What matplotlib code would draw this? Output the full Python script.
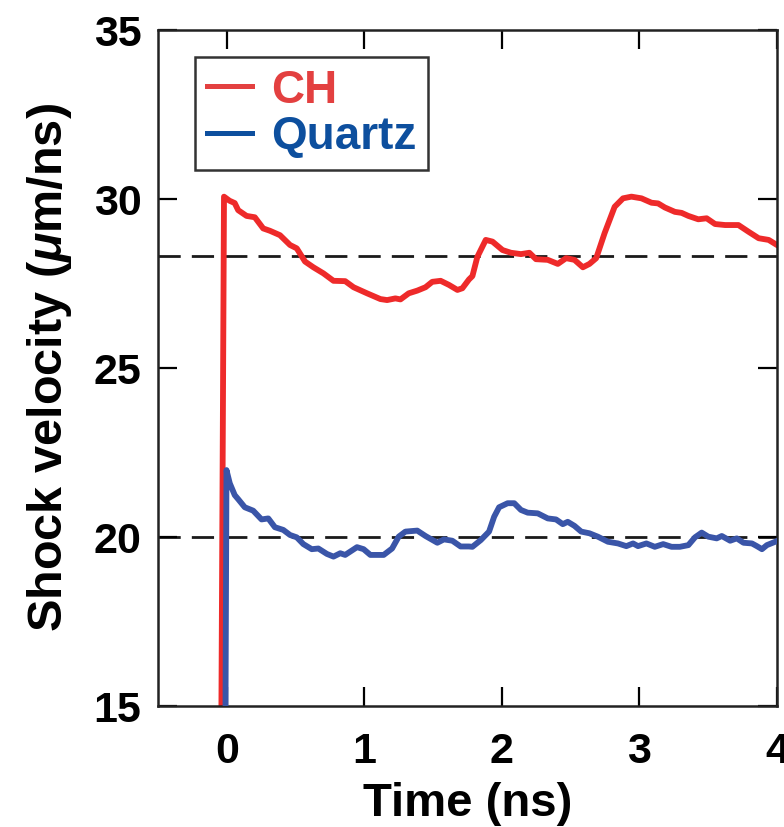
import numpy as np
import matplotlib
matplotlib.use("Agg")
import matplotlib.pyplot as plt
from matplotlib.lines import Line2D

plt.rcParams['font.family'] = ['Liberation Sans', 'DejaVu Sans']
plt.rcParams['font.weight'] = 'bold'
plt.rcParams['mathtext.fontset'] = 'custom'
plt.rcParams['mathtext.it'] = 'Liberation Sans:bold:italic'
plt.rcParams['mathtext.rm'] = 'Liberation Sans:bold'

# CH shock velocity (um/ns) vs time (ns)
ch_t = [-0.04, -0.02, 0.02, 0.058, 0.083, 0.144, 0.204, 0.265, 0.314, 0.387, 0.46, 0.509,
        0.569, 0.63, 0.703, 0.776, 0.861, 0.922, 1.02, 1.117, 1.166, 1.226, 1.263, 1.323,
        1.385, 1.445, 1.494, 1.555, 1.615, 1.677, 1.713, 1.761, 1.786, 1.822, 1.883, 1.932,
        2.005, 2.066, 2.139, 2.2, 2.248, 2.334, 2.407, 2.467, 2.528, 2.589, 2.637, 2.686,
        2.747, 2.82, 2.881, 2.942, 3.015, 3.088, 3.136, 3.185, 3.258, 3.307, 3.356, 3.428,
        3.489, 3.55, 3.623, 3.72, 3.794, 3.867, 3.94, 4.0]
ch_v = [14.0, 30.07, 29.95, 29.88, 29.67, 29.5, 29.46, 29.13, 29.06, 28.93, 28.64, 28.54,
        28.15, 27.98, 27.8, 27.58, 27.57, 27.39, 27.21, 27.04, 27.01, 27.06, 27.03, 27.21,
        27.29, 27.39, 27.55, 27.58, 27.46, 27.31, 27.36, 27.62, 27.72, 28.29, 28.79, 28.74,
        28.49, 28.41, 28.37, 28.41, 28.22, 28.2, 28.08, 28.25, 28.2, 27.98, 28.08, 28.25,
        28.99, 29.77, 30.02, 30.07, 30.02, 29.89, 29.87, 29.75, 29.62, 29.59, 29.5, 29.4,
        29.43, 29.26, 29.23, 29.23, 29.03, 28.84, 28.79, 28.64]

# Quartz shock velocity
qz_t = [-0.01, -0.002, 0.022, 0.058, 0.083, 0.131, 0.192, 0.253, 0.302, 0.35, 0.411, 0.46,
        0.509, 0.557, 0.618, 0.666, 0.728, 0.776, 0.825, 0.861, 0.947, 0.995, 1.044, 1.141,
        1.202, 1.25, 1.299, 1.385, 1.445, 1.531, 1.579, 1.64, 1.70, 1.761, 1.786, 1.847,
        1.907, 1.944, 1.98, 2.042, 2.09, 2.139, 2.188, 2.261, 2.334, 2.394, 2.443, 2.479,
        2.528, 2.577, 2.637, 2.698, 2.771, 2.844, 2.905, 2.954, 2.99, 3.051, 3.112, 3.173,
        3.234, 3.294, 3.356, 3.404, 3.453, 3.501, 3.562, 3.599, 3.66, 3.708, 3.757, 3.818,
        3.854, 3.891, 3.927, 3.988]
qz_v = [14.0, 21.98, 21.59, 21.24, 21.12, 20.88, 20.78, 20.52, 20.55, 20.29, 20.21, 20.06,
        19.99, 19.79, 19.64, 19.66, 19.5, 19.42, 19.52, 19.47, 19.7, 19.64, 19.47, 19.47,
        19.66, 20.01, 20.16, 20.19, 20.03, 19.83, 19.93, 19.89, 19.72, 19.72, 19.71, 19.91,
        20.16, 20.6, 20.88, 21.0, 21.0, 20.8, 20.72, 20.7, 20.55, 20.52, 20.38, 20.45,
        20.33, 20.16, 20.11, 20.01, 19.86, 19.81, 19.73, 19.81, 19.73, 19.81, 19.71, 19.79,
        19.71, 19.71, 19.76, 19.99, 20.13, 20.01, 19.96, 20.03, 19.89, 19.96, 19.83, 19.81,
        19.73, 19.64, 19.76, 19.86]

ch_mean = 28.3
qz_mean = 20.0

red = '#ee2a2a'
blue = '#3a55a8'

fig = plt.figure(figsize=(7.84, 8.27), dpi=100)
ax = fig.add_axes([0.2015, 0.1463, 0.7895, 0.8174])

ax.axhline(ch_mean, color='#1a1a1a', lw=2.0, ls=(0, (8, 4)), zorder=1)
ax.axhline(qz_mean, color='#1a1a1a', lw=2.0, ls=(0, (8, 4)), zorder=1)
ax.plot(ch_t, ch_v, color=red, lw=4.2, solid_joinstyle='round', zorder=2)
ax.plot(qz_t, qz_v, color=blue, lw=4.2, solid_joinstyle='round', zorder=3)

ax.set_xlim(-0.5, 4)
ax.set_ylim(15, 35)
ax.set_xticks([0, 1, 2, 3, 4])
ax.set_yticks([15, 20, 25, 30, 35])
ax.tick_params(direction='in', length=14, width=1.6, labelsize=31, pad=12,
               top=True, right=True)
ax.tick_params(axis='x', pad=19)
for s in ax.spines.values():
    s.set_linewidth(1.8)
    s.set_color('#222222')

ax.set_xlabel('Time (ns)', fontsize=34, fontweight='bold', labelpad=7)
ax.set_ylabel(r'Shock velocity ($\mu$m/ns)', fontsize=35, fontweight='bold', labelpad=14)

handles = [Line2D([], [], color='#e34040', lw=3.6),
           Line2D([], [], color='#0d4f9e', lw=3.6)]
leg = ax.legend(handles, ['CH', 'Quartz'], loc='upper left',
                bbox_to_anchor=(0.06, 0.96), borderaxespad=0, fontsize=33,
                frameon=True, fancybox=False, handlelength=1.0, handletextpad=0.4,
                borderpad=0.25, labelspacing=0.05)
leg.get_frame().set_edgecolor('black')
leg.get_frame().set_linewidth(1.8)
for txt, c in zip(leg.get_texts(), ['#e34040', '#0d4f9e']):
    txt.set_color(c)
    txt.set_fontweight('bold')

fig.savefig('out.png', dpi=100)
